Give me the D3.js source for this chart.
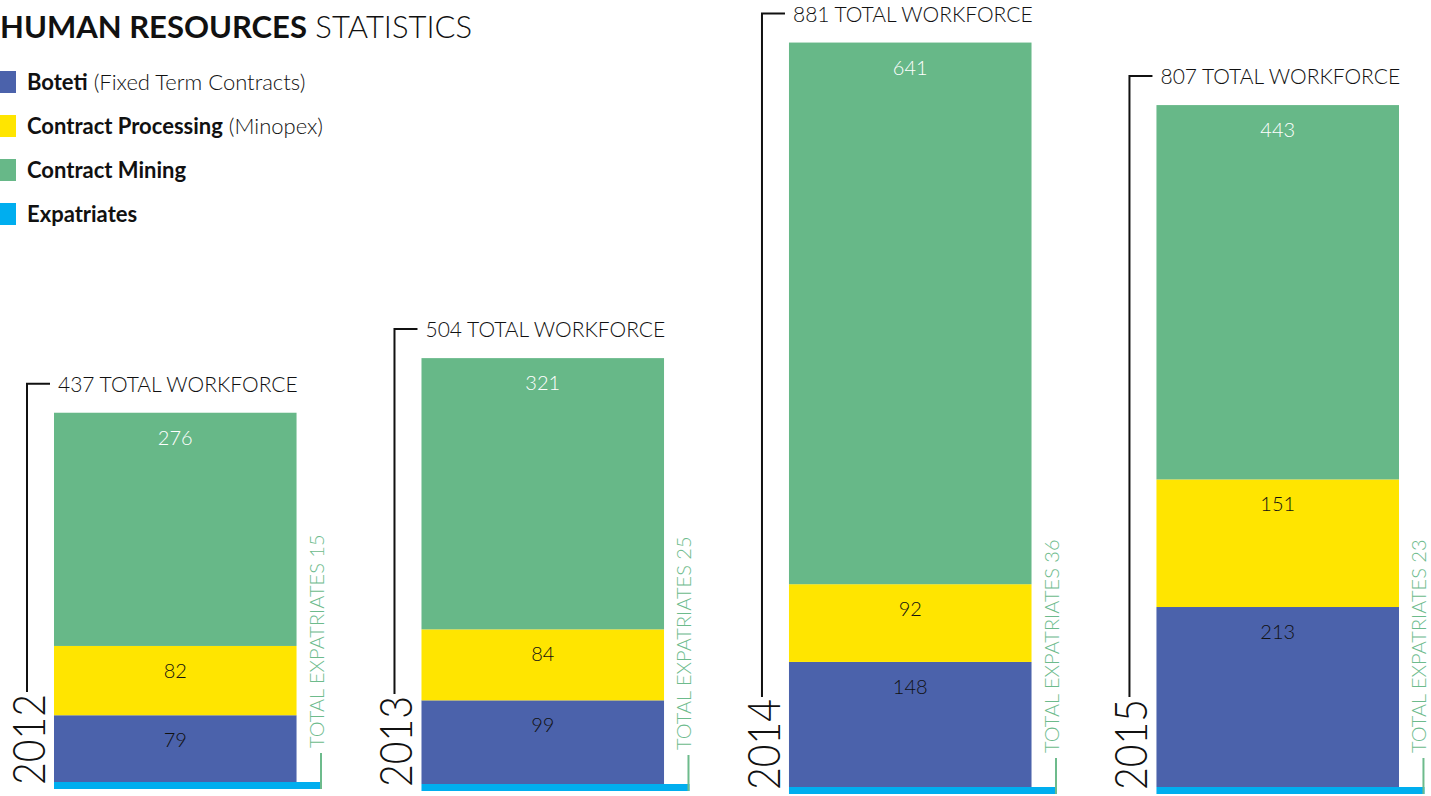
<!DOCTYPE html>
<html>
<head>
<meta charset="utf-8">
<script src="https://cdn.jsdelivr.net/npm/d3@7"></script>
<style>
	body{ margin:0; background:#fff; }
	svg{ display:block; font-family: Lato, "Open Sans", sans-serif; }
	.lbl{ font-weight:300; }
</style>
</head>
<body>
<div id="chart"></div>
<script>
	// values
	const years = ['2012','2013','2014','2015'];
	const boteti = [79, 99, 148, 213];
	const processing = [82, 84, 92, 151];
	const mining = [276, 321, 641, 443];
	const totals = [437, 504, 881, 807];
	const expatriates = [15, 25, 36, 23];
	const legendItems = [
		{bold:'Boteti', rest:' (Fixed Term Contracts)', key:'boteti'},
		{bold:'Contract Processing', rest:' (Minopex)', key:'processing'},
		{bold:'Contract Mining', rest:'', key:'mining'},
		{bold:'Expatriates', rest:'', key:'expat'}
	];

	const colors = {boteti:'#4b62ab', processing:'#ffe500', mining:'#67b888', expat:'#00aeef'};
	const textColor = {boteti:'#111', processing:'#111', mining:'#fff'};
	const greenText = '#6dbb8c';

	const W = 1431, H = 796;
	const svg = d3.select('#chart').append('svg').attr('width', W).attr('height', H);

	// slightly tilted baseline in the original, one per bar
	const baselines = [782, 784, 787, 787];
	const k = 0.845; // px per employee

	const rows = years.map((y,i)=>({year:y, boteti:boteti[i], processing:processing[i], mining:mining[i], total:totals[i], expat:expatriates[i], base:baselines[i]}));
	const keys = ['boteti','processing','mining'];
	const series = d3.stack().keys(keys)(rows);

	const x = d3.scaleBand().domain(years).range([54, 1399]).paddingInner(0.34).paddingOuter(0);
	const h = d3.scaleLinear().domain([0, 1]).range([0, k]);
	const yPos = (d,v)=> d.base - h(v);

	// title
	const title = svg.append('text').attr('x', 0).attr('y', 38).attr('font-size', 31).attr('fill','#111');
	title.append('tspan').attr('font-weight', 700).text('HUMAN RESOURCES');
	title.append('tspan').attr('font-weight', 300).text(' STATISTICS');

	// legend
	const lg = svg.append('g').selectAll('g').data(legendItems).join('g')
		.attr('transform', (d,i)=>`translate(0,${82 + i*44})`);
	lg.append('rect').attr('x', -6).attr('y', -11).attr('width', 22).attr('height', 22).attr('fill', d=>colors[d.key]);
	const lt = lg.append('text').attr('x', 27).attr('y', 8).attr('font-size', 22).attr('fill','#111');
	lt.append('tspan').attr('font-weight', 700).text(d=>d.bold);
	lt.append('tspan').attr('font-weight', 300).text(d=>d.rest);

	// stacked segments
	const segs = svg.append('g').selectAll('g').data(series).join('g').attr('fill', s=>colors[s.key]);
	segs.selectAll('rect').data(s=>s).join('rect')
		.attr('x', d=>x(d.data.year))
		.attr('width', x.bandwidth())
		.attr('y', d=>yPos(d.data, d[1]))
		.attr('height', d=>h(d[1]) - h(d[0]));

	segs.selectAll('text').data(s=>s.map(d=>({key:s.key, d:d}))).join('text')
		.attr('x', e=>x(e.d.data.year) + x.bandwidth()/2)
		.attr('y', e=>yPos(e.d.data, e.d[1]) + 32)
		.attr('text-anchor','middle')
		.attr('font-size', 20).attr('class','lbl')
		.attr('fill', e=>textColor[e.key])
		.text(e=>e.d[1] - e.d[0]);

	// per year annotations
	const ann = svg.append('g').selectAll('g').data(rows).join('g');

	// expatriates strip and green tick
	ann.append('rect')
		.attr('x', d=>x(d.year)).attr('y', d=>d.base)
		.attr('width', 268).attr('height', 7).attr('fill', colors.expat);
	ann.append('path')
		.attr('d', d=>`M${x(d.year)+267},${d.base-29}V${d.base+7}`)
		.attr('stroke', greenText).attr('stroke-width', 2).attr('fill','none');
	ann.append('text')
		.attr('transform', d=>`translate(${x(d.year)+270},${d.base-34}) rotate(-90)`)
		.attr('font-size', 20).attr('class','lbl').attr('fill', greenText)
		.text(d=>`TOTAL EXPATRIATES ${d.expat}`);

	// total workforce bracket
	ann.append('path')
		.attr('d', d=>{
			const top = yPos(d, d.total) - 29;
			return `M${x(d.year)-4},${top}H${x(d.year)-27}V${d.base-90}`;
		})
		.attr('stroke', '#111').attr('stroke-width', 2).attr('fill','none');
	ann.append('text')
		.attr('x', d=>x(d.year)+4).attr('y', d=>yPos(d, d.total) - 21)
		.attr('font-size', 21).attr('class','lbl').attr('fill','#111')
		.text(d=>`${d.total} TOTAL WORKFORCE`);

	// year labels
	ann.append('text')
		.attr('transform', d=>`translate(${x(d.year)-9},${d.base+3}) rotate(-90)`)
		.attr('font-size', 46).attr('class','lbl').attr('fill','#111')
		.attr('textLength', 91).attr('lengthAdjust','spacingAndGlyphs')
		.text(d=>d.year);
</script>
</body>
</html>
